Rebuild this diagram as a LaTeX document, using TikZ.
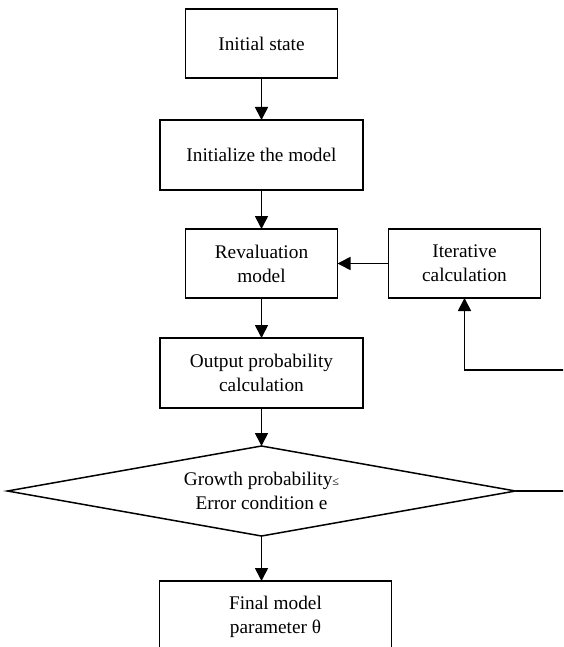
\documentclass[tikz,border=0pt]{standalone}
\usepackage{fontspec}
\setmainfont{Liberation Serif}
\usepackage{tikz}
\usetikzlibrary{shapes.geometric, arrows.meta, positioning}
\tikzstyle{smallbox} = [rectangle, minimum width=152pt, minimum height=69pt, inner sep=0pt, outer sep=0pt, align=center, draw=black, line width=1.7pt]
\tikzstyle{widebox} = [rectangle, minimum width=203pt, minimum height=70pt, inner sep=0pt, outer sep=0pt, align=center, draw=black, line width=1.7pt]
\tikzstyle{finalbox} = [rectangle, minimum width=232pt, minimum height=71pt, inner sep=0pt, outer sep=0pt, align=center, draw=black, line width=1.7pt]
\tikzstyle{decision} = [diamond, aspect=5.6, minimum width=508pt, minimum height=90pt, inner sep=0pt, outer sep=0pt, align=center, draw=black, line width=1.5pt]
\tikzstyle{arrow} = [line width=1.7pt, -{Triangle[length=13pt, width=13pt]}]

\begin{document}
\begin{tikzpicture}[x=1pt, y=-1pt, every node/.style={font=\fontsize{19.3}{24}\selectfont}]
		\useasboundingbox (0,0) rectangle (563,647);
		\clip (0,0) rectangle (563,647);
		% Nodes
		\node (init) [smallbox] at (261.5,43.5) {Initial state};
		\node (initmod) [widebox, below=42pt of init] {Initialize the model};
		\node (reval) [smallbox, below=39pt of initmod] {Revaluation\\model};
		\node (iter) [smallbox, right=51pt of reval] {Iterative\\calculation};
		\node (output) [widebox, below=40pt of reval] {Output probability\\calculation};
		\node (dec) [decision, below=38pt of output] {Growth probability{\fontsize{12}{12}\selectfont ≤}\\Error condition e};
		\node (final) [finalbox, below=45pt of dec, xshift=14pt] {Final model\\parameter θ};
		\coordinate (loop) at ([yshift=-72pt]iter.south);
		% Arrows
		\draw [arrow] (init) -- (initmod);
		\draw [arrow] (initmod) -- (reval);
		\draw [arrow] (iter) -- (reval);
		\draw [arrow] (reval) -- (output);
		\draw [arrow] (output) -- (dec);
		\draw [arrow] (dec.south) -- (dec.south |- final.north);
		\draw [arrow] (dec.east) -- ++(70,0) |- (loop) -- (iter.south);
	\end{tikzpicture}
\end{document}
